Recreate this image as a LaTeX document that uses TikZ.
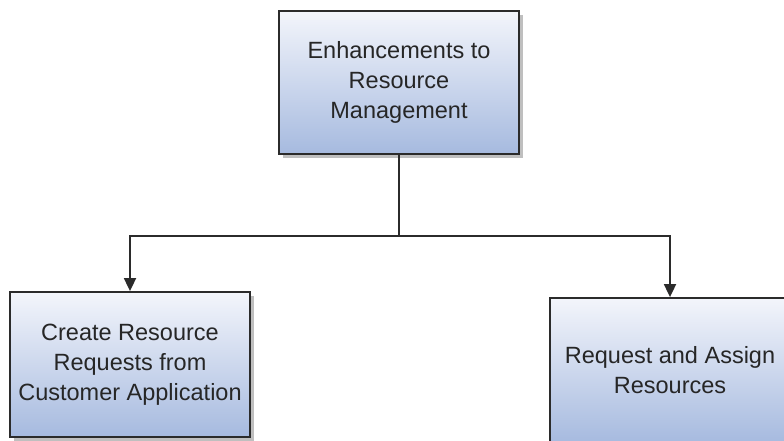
\documentclass[tikz,border=0pt]{standalone}
\usepackage{fontspec}
\setmainfont{Liberation Sans}
\usetikzlibrary{arrows.meta,shadows}
\definecolor{boxtop}{HTML}{F3F5FB}
\definecolor{boxbot}{HTML}{A6BADF}
\definecolor{edge}{HTML}{2B2B2B}
\tikzset{
  topicbox/.style={draw=edge, line width=1.8pt, rectangle,
    minimum width=240pt, minimum height=143pt, inner sep=0pt,
    top color=boxtop, bottom color=boxbot,
    drop shadow={shadow xshift=4pt, shadow yshift=-4pt, fill=black, opacity=0.25},
    align=center, font=\fontsize{23.5}{30}\selectfont, text=black!85},
  link/.style={draw=edge, line width=1.8pt, -{Triangle[length=13pt,width=12pt]}}
}
\begin{document}
\begin{tikzpicture}[x=1pt,y=-1pt]
\useasboundingbox (0,0) rectangle (784,441);
\clip (0,0) rectangle (784,441);
\node[topicbox] (root) at (399,82.5) {Enhancements to\\Resource\\Management};
\node[topicbox, minimum height=145pt] (left) at (130,364.5) {Create Resource\\Requests from\\Customer Application};
\node[topicbox, minimum height=145pt] (right) at (670,370.5) {Request and Assign\\Resources};
\coordinate (split) at (399,236);
\draw[link] (root.south) -- (split) -| (left.north);
\draw[link] (split) -| (right.north);
\end{tikzpicture}
\end{document}
